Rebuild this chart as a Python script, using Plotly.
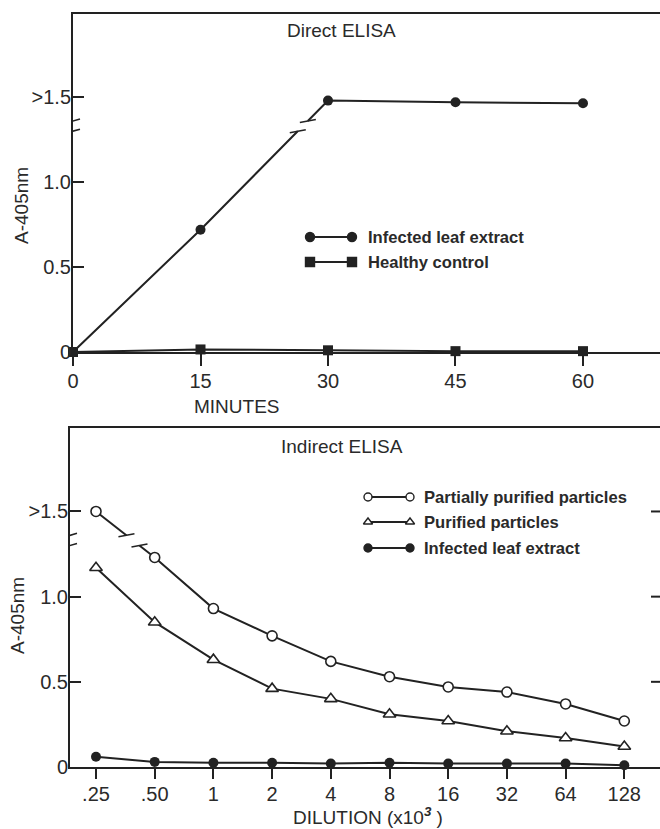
import plotly.graph_objects as go

# ---------------- data ----------------
minutes = [0, 15, 30, 45, 60]
direct_infected = [0.0, 0.72, 1.48, 1.47, 1.465]
direct_healthy = [0.0, 0.015, 0.01, 0.005, 0.005]

dilution_labels = [".25", ".50", "1", "2", "4", "8", "16", "32", "64", "128"]
partially_purified = [1.50, 1.23, 0.93, 0.77, 0.62, 0.53, 0.47, 0.44, 0.37, 0.27]
purified = [1.17, 0.85, 0.63, 0.46, 0.40, 0.31, 0.27, 0.21, 0.17, 0.12]
indirect_infected = [0.06, 0.03, 0.025, 0.025, 0.02, 0.025, 0.02, 0.02, 0.02, 0.01]

y_tickvals = [0, 0.5, 1.0, 1.5]
y_ticktext = ["0", "0.5", "1.0", ">1.5"]
break_lo, break_hi = 1.30, 1.36

# ---------------- layout geometry (screen pixels; body margin removed below) ----------------
OFF = 0
W, H = 660, 829
def fx(sx):
    return (sx - OFF) / W
def fy(sy):
    return 1 - (sy - OFF) / H

INK = "#222222"
TXT = "#2a2a2a"
FONT = "Liberation Sans, Arial, sans-serif"

TOP = dict(l=73, r=660, t=14, b=352)
BOT = dict(l=70, r=660, t=428, b=767)
def ax_fx(box, sx):
    return (sx - box["l"]) / (box["r"] - box["l"])
def ax_fy(box, sy):
    return (box["b"] - sy) / (box["b"] - box["t"])

top_x_range = [0, 69.06]
bot_x_range = [-0.443, 9.608]
y_range = [0, 1.99]

fig = go.Figure()

# ---- top chart: Direct ELISA ----
fig.add_trace(go.Scatter(
    x=minutes, y=direct_infected, mode="lines+markers", xaxis="x", yaxis="y",
    line=dict(color=INK, width=2), marker=dict(symbol="circle", size=10, color=INK),
    cliponaxis=False, showlegend=False))
fig.add_trace(go.Scatter(
    x=minutes, y=direct_healthy, mode="lines+markers", xaxis="x", yaxis="y",
    line=dict(color=INK, width=2), marker=dict(symbol="square", size=10, color=INK),
    cliponaxis=False, showlegend=False))

# ---- bottom chart: Indirect ELISA ----
fig.add_trace(go.Scatter(
    x=dilution_labels, y=partially_purified, mode="lines+markers", xaxis="x2", yaxis="y2",
    line=dict(color=INK, width=2),
    marker=dict(symbol="circle", size=10, color="white", line=dict(color=INK, width=1.6)),
    cliponaxis=False, showlegend=False))
fig.add_trace(go.Scatter(
    x=dilution_labels, y=purified, mode="lines+markers", xaxis="x2", yaxis="y2",
    line=dict(color=INK, width=2),
    marker=dict(symbol="triangle-up", size=11, color="white", line=dict(color=INK, width=1.6)),
    cliponaxis=False, showlegend=False))
fig.add_trace(go.Scatter(
    x=dilution_labels, y=indirect_infected, mode="lines+markers", xaxis="x2", yaxis="y2",
    line=dict(color=INK, width=2), marker=dict(symbol="circle", size=10, color=INK),
    cliponaxis=False, showlegend=False))

# ---- legend glyphs (overlay axes in [0,1]) ----
def legend_glyph(xa, ya, x0, x1, y, sym, fill, size):
    fig.add_trace(go.Scatter(
        x=[x0, x1], y=[y, y], mode="lines+markers", xaxis=xa, yaxis=ya,
        line=dict(color=INK, width=2),
        marker=dict(symbol=sym, size=size, color=fill, line=dict(color=INK, width=1.4)),
        cliponaxis=False, showlegend=False, hoverinfo="skip"))

top_leg = [("circle", INK, "Infected leaf extract"), ("square", INK, "Healthy control")]
top_leg_y = [ax_fy(TOP, 237), ax_fy(TOP, 262)]
for (sym, fill, _), yy in zip(top_leg, top_leg_y):
    legend_glyph("x3", "y3", ax_fx(TOP, 310), ax_fx(TOP, 352), yy, sym, fill, 9)

bot_leg = [("circle", "white", "Partially purified particles"),
           ("triangle-up", "white", "Purified particles"),
           ("circle", INK, "Infected leaf extract")]
bot_leg_y = [ax_fy(BOT, 497), ax_fy(BOT, 522), ax_fy(BOT, 548)]
for (sym, fill, _), yy in zip(bot_leg, bot_leg_y):
    legend_glyph("x4", "y4", ax_fx(BOT, 368), ax_fx(BOT, 410), yy, sym, fill, 8)

LEGFONT = dict(family=FONT, size=16.6, color=TXT)
annotations = []
for (_, _, txt), yy in zip(top_leg, top_leg_y):
    annotations.append(dict(xref="x3", yref="y3", x=ax_fx(TOP, 366), y=yy, text="<b>" + txt + "</b>",
                            showarrow=False, xanchor="left", yanchor="middle", font=LEGFONT))
for (_, _, txt), yy in zip(bot_leg, bot_leg_y):
    annotations.append(dict(xref="x4", yref="y4", x=ax_fx(BOT, 422), y=yy, text="<b>" + txt + "</b>",
                            showarrow=False, xanchor="left", yanchor="middle", font=LEGFONT))

# titles and axis titles
TFONT = dict(family=FONT, size=19, color=TXT)
def label(sx, sy, text, angle=0):
    return dict(xref="paper", yref="paper", x=fx(sx), y=fy(sy), text=text, showarrow=False,
                xanchor="center", yanchor="middle", textangle=angle, font=TFONT)

annotations += [
    label(341, 31, "Direct ELISA"),
    label(342, 447, "Indirect ELISA"),
    label(237, 406, "MINUTES"),
    label(368, 816, "DILUTION (x10<sup><b><i>3</i></b></sup> )"),
    label(21, 205, "A-405nm", -90),
    label(17, 616, "A-405nm", -90),
]

# ---------------- axis break marks and right-edge ticks ----------------
shapes = []
def axis_break(xref, yref, xanchor):
    shapes.append(dict(type="line", xref=xref, yref=yref, xsizemode="pixel", xanchor=xanchor,
                       x0=0, x1=0, y0=break_lo + 0.005, y1=break_hi - 0.005,
                       line=dict(color="white", width=5), layer="above"))
    for yv in (break_lo, break_hi):
        shapes.append(dict(type="line", xref=xref, yref=yref, xsizemode="pixel", ysizemode="pixel",
                           xanchor=xanchor, yanchor=yv, x0=-7, x1=7, y0=-2, y1=2,
                           line=dict(color=INK, width=1.6), layer="above"))

def line_break(xref, yref, xs, ys):
    for i in range(len(xs) - 1):
        ya, yb = ys[i], ys[i + 1]
        if min(ya, yb) < break_lo and max(ya, yb) > break_hi:
            def at(yv):
                return xs[i] + (yv - ya) / (yb - ya) * (xs[i + 1] - xs[i])
            xl, xh = at(break_lo), at(break_hi)
            shapes.append(dict(type="line", xref=xref, yref=yref, x0=xl, x1=xh,
                               y0=break_lo, y1=break_hi, line=dict(color="white", width=6),
                               layer="above"))
            for xv, yv in ((xl, break_lo), (xh, break_hi)):
                shapes.append(dict(type="line", xref=xref, yref=yref, xsizemode="pixel",
                                   ysizemode="pixel", xanchor=xv, yanchor=yv,
                                   x0=-8, x1=8, y0=-1.5, y1=1.5,
                                   line=dict(color=INK, width=1.6), layer="above"))
            break

axis_break("x", "y", top_x_range[0])
axis_break("x2", "y2", bot_x_range[0])
line_break("x", "y", minutes, direct_infected)
line_break("x2", "y2", list(range(len(dilution_labels))), partially_purified)

# inward ticks on the (cropped) right frame of the lower chart
for tv in y_tickvals[1:]:
    shapes.append(dict(type="line", xref="x2", yref="y2", xsizemode="pixel", xanchor=bot_x_range[1],
                       x0=-9, x1=0, y0=tv, y1=tv, line=dict(color=INK, width=2), layer="above"))

# ---------------- axes ----------------
tickfont = dict(family=FONT, size=20, color=TXT)
common_x = dict(showline=True, linecolor=INK, linewidth=2, ticks="outside", ticklen=12,
                tickwidth=2, tickcolor=INK, showgrid=False, zeroline=False, tickfont=tickfont,
                mirror=True, automargin=False, ticklabelstandoff=-2)
common_y = dict(showline=True, linecolor=INK, linewidth=2, ticks="inside", ticklen=11,
                tickwidth=2, tickcolor=INK, showgrid=False, zeroline=False, tickfont=tickfont,
                range=y_range, tickvals=y_tickvals, ticktext=y_ticktext, automargin=False,
                ticklabelstandoff=-4)

top_dom_x = [fx(TOP["l"]), fx(TOP["r"])]
top_dom_y = [fy(TOP["b"]), fy(TOP["t"])]
bot_dom_x = [fx(BOT["l"]), fx(BOT["r"])]
bot_dom_y = [fy(BOT["b"]), fy(BOT["t"])]

hidden = dict(range=[0, 1], visible=False, automargin=False)

fig.update_layout(
    width=W, height=H, margin=dict(l=0, r=0, t=0, b=0, autoexpand=False),
    paper_bgcolor="white", plot_bgcolor="white",
    xaxis=dict(common_x, domain=top_dom_x, anchor="y", range=top_x_range,
               tickvals=minutes, ticktext=[str(m) for m in minutes]),
    yaxis=dict(common_y, domain=top_dom_y, anchor="x"),
    xaxis2=dict(common_x, domain=bot_dom_x, anchor="y2", range=bot_x_range, type="category",
                categoryorder="array", categoryarray=dilution_labels, ticklen=10),
    yaxis2=dict(common_y, domain=bot_dom_y, anchor="x2"),
    xaxis3=dict(hidden, domain=top_dom_x, anchor="y3", overlaying="x"),
    yaxis3=dict(hidden, domain=top_dom_y, anchor="x3", overlaying="y"),
    xaxis4=dict(hidden, domain=bot_dom_x, anchor="y4", overlaying="x2"),
    yaxis4=dict(hidden, domain=bot_dom_y, anchor="x4", overlaying="y2"),
    annotations=annotations, shapes=shapes,
)

fig.write_html("out.html", config={"displayModeBar": False},
               post_script="document.body.style.margin='0';document.body.style.overflow='hidden';")
